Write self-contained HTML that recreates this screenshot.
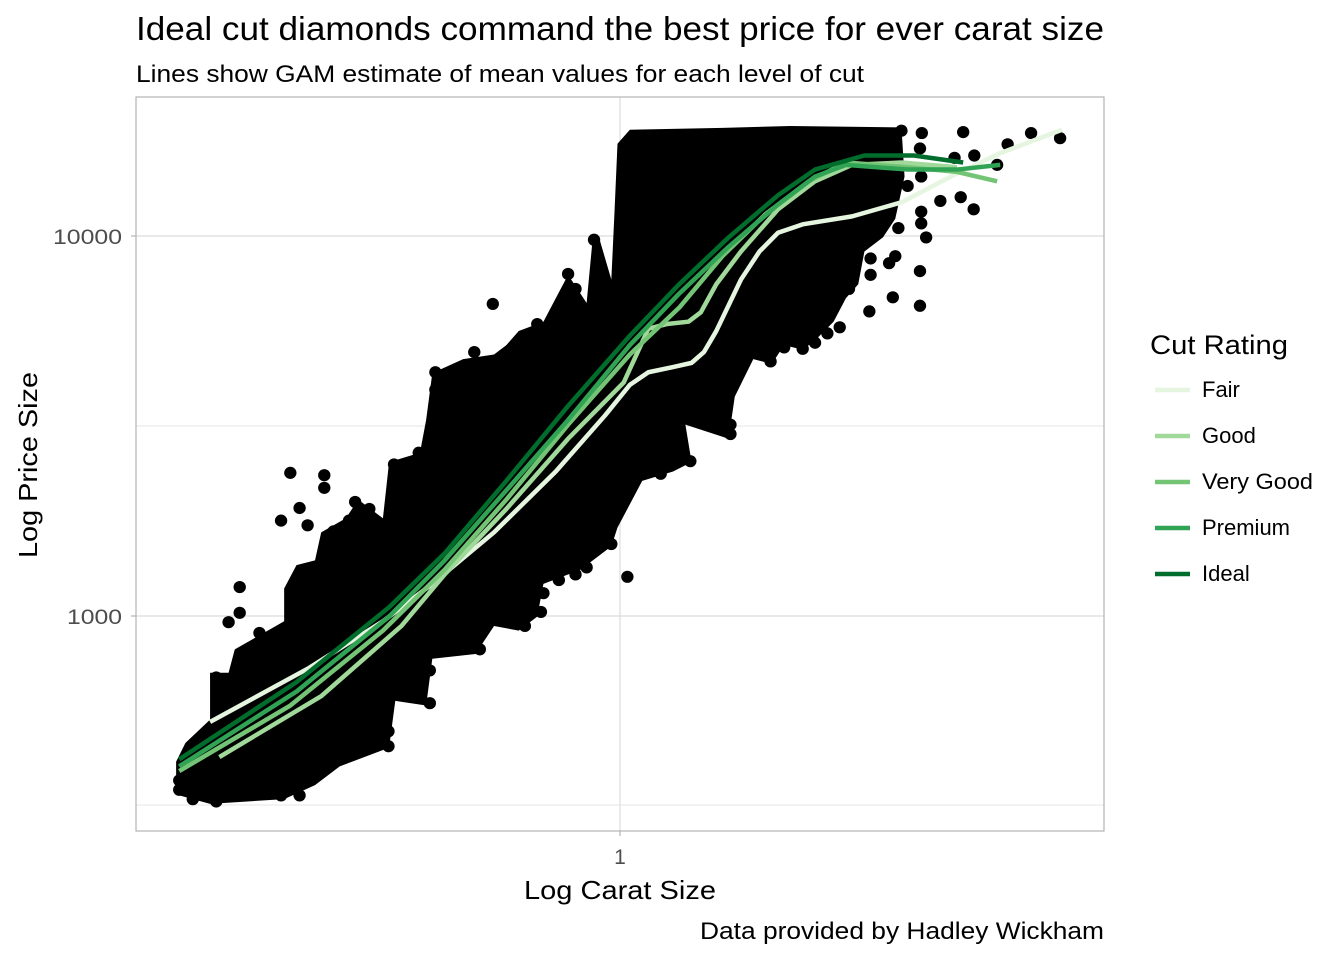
<!DOCTYPE html>
<html><head><meta charset="utf-8"><style>
html,body{margin:0;padding:0;background:#fff}
svg{display:block;font-family:"Liberation Sans",Arial,sans-serif}
</style></head><body>
<svg width="1344" height="960" viewBox="0 0 1344 960" xmlns="http://www.w3.org/2000/svg">
<rect width="1344" height="960" fill="#fff"/>
<text x="136" y="40" font-size="33" fill="#000" textLength="968" lengthAdjust="spacingAndGlyphs">Ideal cut diamonds command the best price for ever carat size</text>
<text x="136" y="82" font-size="24" fill="#000" textLength="728" lengthAdjust="spacingAndGlyphs">Lines show GAM estimate of mean values for each level of cut</text>
<g stroke="#dcdcdc" stroke-width="1.2">
<line x1="136" x2="1104" y1="236" y2="236"/><line x1="136" x2="1104" y1="616" y2="616"/>
<line x1="136" x2="1104" y1="426" y2="426" stroke-width="0.8"/><line x1="136" x2="1104" y1="805" y2="805" stroke-width="0.8"/>
<line x1="620" x2="620" y1="97" y2="831"/>
</g>
<g transform="translate(136,97) scale(0.6173,0.4681)">
<polygon fill="#000" points="65,1490 120,1510 240,1500 290,1470 330,1430 410,1390 420,1290 470,1300 480,1200 550,1190 580,1130 620,1140 650,1110 660,1040 720,1010 770,960 780,920 820,820 870,800 900,780 890,700 960,730 970,640 1000,560 1030,570 1050,530 1080,540 1100,520 1130,480 1150,430 1170,400 1180,330 1210,300 1230,260 1245,170 1240,65 1060,62 950,66 800,70 780,100 775,250 770,390 750,300 740,300 730,440 700,380 680,430 660,480 620,500 600,530 580,550 530,560 480,590 470,690 460,760 410,780 400,900 360,860 340,900 300,930 290,990 260,1000 240,1050 240,1120 200,1150 160,1180 150,1230 120,1230 120,1330 80,1380 65,1420"/>
<g fill="#000">
<ellipse cx="1497" cy="88" rx="10" ry="13"/><ellipse cx="1450" cy="77" rx="10" ry="13"/><ellipse cx="1412" cy="101" rx="10" ry="13"/><ellipse cx="1358" cy="125" rx="10" ry="13"/><ellipse cx="1340" cy="75" rx="10" ry="13"/><ellipse cx="1273" cy="77" rx="10" ry="13"/><ellipse cx="1240" cy="72" rx="10" ry="13"/><ellipse cx="1326" cy="130" rx="10" ry="13"/><ellipse cx="1395" cy="145" rx="10" ry="13"/><ellipse cx="1270" cy="110" rx="10" ry="13"/><ellipse cx="1272" cy="170" rx="10" ry="13"/><ellipse cx="1272" cy="245" rx="10" ry="13"/><ellipse cx="1272" cy="270" rx="10" ry="13"/><ellipse cx="1250" cy="190" rx="10" ry="13"/>
<ellipse cx="1357" cy="240" rx="10" ry="13"/><ellipse cx="1336" cy="214" rx="10" ry="13"/><ellipse cx="1303" cy="222" rx="10" ry="13"/><ellipse cx="1280" cy="300" rx="10" ry="13"/><ellipse cx="1270" cy="372" rx="10" ry="13"/><ellipse cx="1270" cy="446" rx="10" ry="13"/><ellipse cx="1226" cy="428" rx="10" ry="13"/><ellipse cx="1188" cy="458" rx="10" ry="13"/><ellipse cx="1190" cy="380" rx="10" ry="13"/><ellipse cx="1190" cy="345" rx="10" ry="13"/><ellipse cx="1230" cy="340" rx="10" ry="13"/><ellipse cx="1220" cy="355" rx="10" ry="13"/><ellipse cx="1235" cy="280" rx="10" ry="13"/><ellipse cx="1210" cy="275" rx="10" ry="13"/><ellipse cx="1195" cy="290" rx="10" ry="13"/><ellipse cx="1160" cy="350" rx="10" ry="13"/><ellipse cx="1155" cy="410" rx="10" ry="13"/><ellipse cx="1130" cy="410" rx="10" ry="13"/>
<ellipse cx="1140" cy="492" rx="10" ry="13"/><ellipse cx="1120" cy="505" rx="10" ry="13"/><ellipse cx="1100" cy="525" rx="10" ry="13"/><ellipse cx="1080" cy="538" rx="10" ry="13"/><ellipse cx="1050" cy="535" rx="10" ry="13"/><ellipse cx="1028" cy="565" rx="10" ry="13"/><ellipse cx="1050" cy="430" rx="10" ry="13"/><ellipse cx="1070" cy="440" rx="10" ry="13"/><ellipse cx="963" cy="720" rx="10" ry="13"/><ellipse cx="963" cy="700" rx="10" ry="13"/><ellipse cx="898" cy="778" rx="10" ry="13"/><ellipse cx="850" cy="805" rx="10" ry="13"/><ellipse cx="796" cy="1025" rx="10" ry="13"/><ellipse cx="770" cy="955" rx="10" ry="13"/><ellipse cx="740" cy="940" rx="10" ry="13"/><ellipse cx="730" cy="1005" rx="10" ry="13"/><ellipse cx="712" cy="1020" rx="10" ry="13"/><ellipse cx="685" cy="1000" rx="10" ry="13"/><ellipse cx="685" cy="1032" rx="10" ry="13"/><ellipse cx="660" cy="1060" rx="10" ry="13"/><ellipse cx="656" cy="1100" rx="10" ry="13"/><ellipse cx="630" cy="1130" rx="10" ry="13"/><ellipse cx="557" cy="1180" rx="10" ry="13"/><ellipse cx="476" cy="1295" rx="10" ry="13"/><ellipse cx="476" cy="1225" rx="10" ry="13"/><ellipse cx="409" cy="1387" rx="10" ry="13"/><ellipse cx="409" cy="1355" rx="10" ry="13"/><ellipse cx="365" cy="1385" rx="10" ry="13"/>
<ellipse cx="578" cy="442" rx="10" ry="13"/><ellipse cx="548" cy="545" rx="10" ry="13"/><ellipse cx="485" cy="588" rx="10" ry="13"/><ellipse cx="485" cy="625" rx="10" ry="13"/><ellipse cx="700" cy="378" rx="10" ry="13"/><ellipse cx="742" cy="305" rx="10" ry="13"/><ellipse cx="712" cy="410" rx="10" ry="13"/><ellipse cx="650" cy="485" rx="10" ry="13"/>
<ellipse cx="250" cy="803" rx="10" ry="13"/><ellipse cx="305" cy="808" rx="10" ry="13"/><ellipse cx="305" cy="835" rx="10" ry="13"/><ellipse cx="235" cy="905" rx="10" ry="13"/><ellipse cx="265" cy="878" rx="10" ry="13"/><ellipse cx="278" cy="915" rx="10" ry="13"/><ellipse cx="320" cy="928" rx="10" ry="13"/><ellipse cx="345" cy="905" rx="10" ry="13"/><ellipse cx="355" cy="865" rx="10" ry="13"/><ellipse cx="378" cy="880" rx="10" ry="13"/><ellipse cx="418" cy="785" rx="10" ry="13"/><ellipse cx="418" cy="820" rx="10" ry="13"/><ellipse cx="450" cy="790" rx="10" ry="13"/><ellipse cx="458" cy="760" rx="10" ry="13"/>
<ellipse cx="168" cy="1047" rx="10" ry="13"/><ellipse cx="168" cy="1102" rx="10" ry="13"/><ellipse cx="150" cy="1122" rx="10" ry="13"/><ellipse cx="200" cy="1145" rx="10" ry="13"/><ellipse cx="130" cy="1240" rx="10" ry="13"/><ellipse cx="70" cy="1460" rx="10" ry="13"/><ellipse cx="70" cy="1480" rx="10" ry="13"/><ellipse cx="92" cy="1500" rx="10" ry="13"/><ellipse cx="130" cy="1505" rx="10" ry="13"/><ellipse cx="185" cy="1490" rx="10" ry="13"/><ellipse cx="235" cy="1492" rx="10" ry="13"/><ellipse cx="265" cy="1492" rx="10" ry="13"/>
</g>
<g fill="none" stroke-width="4.5" stroke-linejoin="round">
<polyline vector-effect="non-scaling-stroke" stroke="#e5f5e0" points="120,1335 280,1220 400,1120 480,1040 580,930 680,800 760,680 800,615 830,588 870,577 900,568 920,545 940,500 960,445 980,390 1010,330 1040,290 1080,272 1160,255 1240,225 1320,170 1400,120 1500,70"/>
<polyline vector-effect="non-scaling-stroke" stroke="#a1d99b" points="135,1410 300,1280 430,1130 500,1020 600,880 700,730 790,610 830,495 860,485 895,480 915,460 940,400 980,330 1040,240 1100,180 1160,145 1240,140 1330,150"/>
<polyline vector-effect="non-scaling-stroke" stroke="#74c476" points="70,1440 250,1300 400,1140 500,1010 600,860 700,700 800,550 880,450 950,340 1020,250 1090,180 1150,140 1250,150 1330,160 1395,180"/>
<polyline vector-effect="non-scaling-stroke" stroke="#31a354" points="70,1430 260,1270 410,1110 500,990 600,840 700,690 800,530 880,420 960,320 1040,230 1100,170 1150,145 1250,155 1330,155 1400,145"/>
<polyline vector-effect="non-scaling-stroke" stroke="#006d2c" points="70,1415 260,1250 410,1090 500,975 600,820 700,660 800,510 880,400 960,300 1040,210 1100,155 1180,125 1260,125 1340,140"/>
</g>
</g>
<rect x="136" y="97" width="968" height="734" fill="none" stroke="#b3b3b3" stroke-width="1.2"/>
<g stroke="#b3b3b3" stroke-width="1.2"><line x1="131" x2="136" y1="236" y2="236"/><line x1="131" x2="136" y1="616" y2="616"/><line x1="620" x2="620" y1="831" y2="836"/></g>
<g font-size="21" fill="#4d4d4d"><text x="122" y="244" text-anchor="end" textLength="69" lengthAdjust="spacingAndGlyphs">10000</text><text x="122" y="624" text-anchor="end" textLength="55" lengthAdjust="spacingAndGlyphs">1000</text><text x="620" y="864" text-anchor="middle">1</text></g>
<text x="524" y="899" font-size="26" fill="#000" textLength="192" lengthAdjust="spacingAndGlyphs">Log Carat Size</text>
<text transform="translate(37,558) rotate(-90)" font-size="26" fill="#000" textLength="186" lengthAdjust="spacingAndGlyphs">Log Price Size</text>
<text x="700" y="939" font-size="24" fill="#000" textLength="404" lengthAdjust="spacingAndGlyphs">Data provided by Hadley Wickham</text>
<text x="1150" y="354" font-size="27" fill="#000" textLength="138" lengthAdjust="spacingAndGlyphs">Cut Rating</text>
<g stroke-width="4.5">
<line x1="1155" x2="1190" y1="390" y2="390" stroke="#e5f5e0"/>
<line x1="1155" x2="1190" y1="436" y2="436" stroke="#a1d99b"/>
<line x1="1155" x2="1190" y1="482" y2="482" stroke="#74c476"/>
<line x1="1155" x2="1190" y1="528" y2="528" stroke="#31a354"/>
<line x1="1155" x2="1190" y1="574" y2="574" stroke="#006d2c"/>
</g>
<g font-size="22" fill="#000">
<text x="1202" y="397">Fair</text><text x="1202" y="443">Good</text><text x="1202" y="489" textLength="111" lengthAdjust="spacingAndGlyphs">Very Good</text><text x="1202" y="535">Premium</text><text x="1202" y="581">Ideal</text>
</g>
</svg>
</body></html>
